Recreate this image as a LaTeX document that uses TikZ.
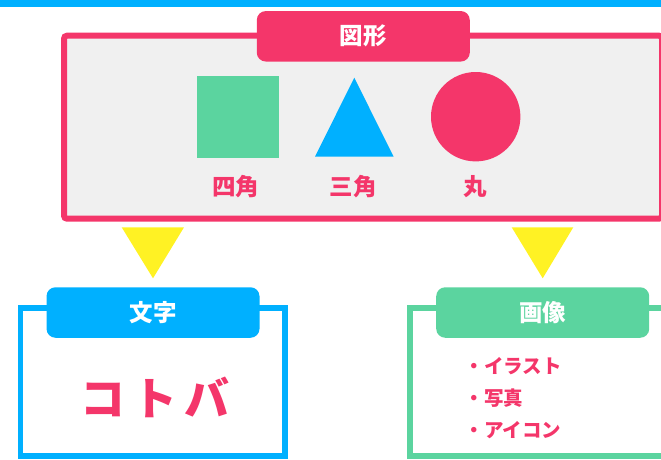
\documentclass[tikz,border=0pt]{standalone}
\usepackage{fontspec}
\setmainfont{Noto Sans CJK JP}
\definecolor{myblue}{HTML}{00B0FF}
\definecolor{mypink}{HTML}{F4366A}
\definecolor{mygreen}{HTML}{5BD49F}
\definecolor{myyellow}{HTML}{FFF224}
\definecolor{mygray}{HTML}{F0F0F0}
\tikzset{
  labelbox/.style={rounded corners=9pt, minimum width=213pt, minimum height=50.5pt, inner sep=0pt,
    text=white, font=\fontsize{23.5}{26}\selectfont\bfseries},
  shapelabel/.style={text=mypink, inner sep=0pt, font=\fontsize{23.5}{26}\selectfont\bfseries},
  listitem/.style={text=mypink, inner sep=0pt, anchor=base west, font=\fontsize{19.5}{22}\selectfont\bfseries},
  framebox/.style={line width=5.6pt},
  pointer/.style={fill=myyellow}
}
\begin{document}
\begin{tikzpicture}[x=1pt,y=-1pt]
\useasboundingbox (0,0) rectangle (661,459);
\clip (0,0) rectangle (661,459);
% top bar
\fill[myblue] (0,0) rectangle (661,7.3);
% main frame
\draw[framebox, draw=mypink, fill=mygray, line width=6pt, rounded corners=3pt] (64,35.7) rectangle (662,218.7);
\node[labelbox, fill=mypink] (zukei) at (363.3,36.3) {図形};
% shapes
\node[fill=mygreen, minimum size=82pt, inner sep=0pt] (sq) at (238,116.7) {};
\coordinate (tA) at (354.3,77.7);
\coordinate (tB) at (393.6,156.7);
\coordinate (tC) at (315,156.7);
\fill[myblue] (tA) -- (tB) -- (tC) -- cycle;
\node[circle, fill=mypink, minimum size=89.4pt, inner sep=0pt] (circ) at (475.7,116.7) {};
\node[shapelabel] (l1) at (235.5,187) {四角};
\node[shapelabel] (l2) at (353,187) {三角};
\node[shapelabel] (l3) at (475.5,187) {丸};
% yellow pointers
\coordinate (p1a) at (121.7,227.3);
\coordinate (p1b) at (184,227.3);
\coordinate (p1c) at (153,278.3);
\fill[pointer] (p1a) -- (p1b) -- (p1c) -- cycle;
\coordinate (p2a) at (511.7,227.3);
\coordinate (p2b) at (573.3,227.3);
\coordinate (p2c) at (542.7,278.3);
\fill[pointer] (p2a) -- (p2b) -- (p2c) -- cycle;
% left box
\draw[framebox, draw=myblue, fill=white] (20.5,308) rectangle (285,456);
\node[labelbox, fill=myblue] (moji) at (153,312.5) {文字};
\node[text=mypink, inner sep=0pt, font=\fontsize{45}{50}\selectfont\bfseries\addfontfeature{LetterSpace=15}] (kotoba) at (155,397.5) {コトバ};
% right box
\draw[framebox, draw=mygreen, fill=white] (410,308) rectangle (674.5,456);
\node[labelbox, fill=mygreen] (gazou) at (542.7,312.5) {画像};
\node[listitem] (i1) at (464.5,373.2) {・イラスト};
\node[listitem] (i2) at (464.5,405.5) {・写真};
\node[listitem] (i3) at (464.5,437.9) {・アイコン};
\end{tikzpicture}
\end{document}
